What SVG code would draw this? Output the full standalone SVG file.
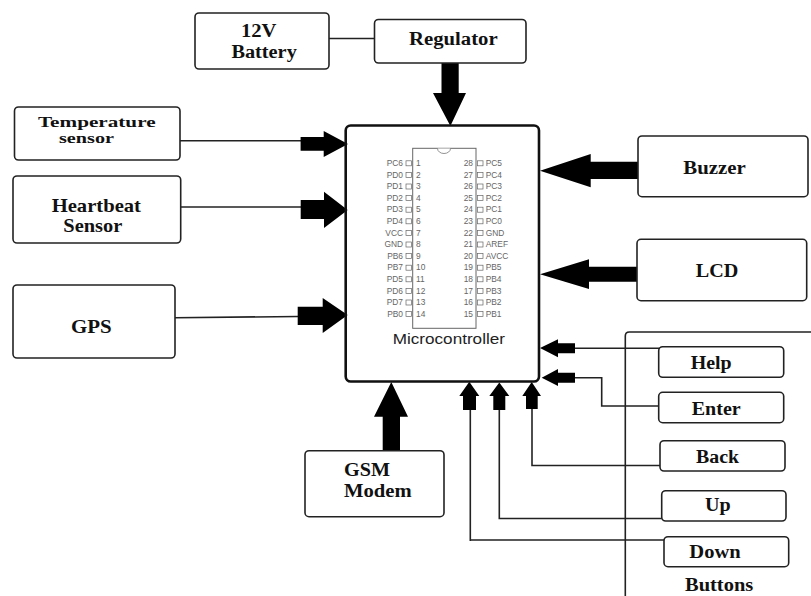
<svg xmlns="http://www.w3.org/2000/svg" width="811" height="596" viewBox="0 0 811 596">
<style>
.box{fill:#fff;stroke:#222;stroke-width:1.6}
.t{font-family:"Liberation Serif","Times New Roman",serif;font-weight:bold;font-size:18px;fill:#111}
.ln{fill:none;stroke:#222;stroke-width:1.6}
.ar{fill:#000;stroke:none}
.pl{font-family:"Liberation Sans",Arial,sans-serif;font-size:8.4px;fill:#666}
.e{text-anchor:end}
.pin{fill:#fff;stroke:#666;stroke-width:.7}
</style>
<rect width="811" height="596" fill="#fff"/>
<g id="buttons-frame"><path class="ln" d="M625.3 596V336q0-4 4-4H811"/><text class="t" x="685" y="590.7" textLength="68.3" lengthAdjust="spacingAndGlyphs">Buttons</text></g>
<g id="connectors">
<path class="ln" d="M329 38.5H375"/>
<path class="ln" d="M180 140.7H301"/>
<path class="ln" d="M180 207H301"/>
<path class="ln" d="M175 317.7L298 316.5"/>
<path class="ln" d="M575 348.3H659"/>
<path class="ln" d="M575 377.7H601.7V406H659"/>
<path class="ln" d="M532 409V465.5H661"/>
<path class="ln" d="M499.3 410V518.5H662"/>
<path class="ln" d="M470.3 410V541M470.3 540H665"/>
<polygon class="ar" points="441.5,63 458.7,63 458.7,93 466,93 450.4,126 433,93 441.5,93"/>
<polygon class="ar" points="300.6,137 323.7,137 323.7,131 348,144 323.7,157 323.7,150.7 300.6,150.7"/>
<polygon class="ar" points="300.7,200 324,200 324,191.7 347.7,210 324,228 324,219 300.7,219"/>
<polygon class="ar" points="297.7,306.7 322.7,306.7 322.7,298 347.7,315 322.7,333 322.7,325 297.7,325"/>
<polygon class="ar" points="638,161.7 590.7,161.7 590.7,154 540,170.7 590.7,187.3 590.7,179 638,179"/>
<polygon class="ar" points="637,266.7 589,266.7 589,259.3 540,274.3 589,289 589,281.7 637,281.7"/>
<polygon class="ar" points="575,343.3 558,343.3 558,339.3 540,348 558,357.3 558,353.3 575,353.3"/>
<polygon class="ar" points="575,372.7 558,372.7 558,369 541.7,377.7 558,386 558,382.7 575,382.7"/>
<polygon class="ar" points="382.7,451 400,451 400,416.7 408,416.7 391.3,382 374,416.7 382.7,416.7"/>
<polygon class="ar" points="463,410 476,410 476,396 479.3,396 469.3,381.7 459.3,396 463,396"/>
<polygon class="ar" points="493.3,410 505.3,410 505.3,396 509.3,396 499.3,382.5 489.3,396 493.3,396"/>
<polygon class="ar" points="526,409 537.7,409 537.7,396 541,396 531.7,382 522.3,396 526,396"/>
</g>
<g id="battery"><rect class="box" x="195" y="13" width="134" height="56" rx="4"/><text class="t" x="241" y="37.3" textLength="35.5" lengthAdjust="spacingAndGlyphs">12V</text><text class="t" x="231.4" y="58.3" textLength="65.4" lengthAdjust="spacingAndGlyphs">Battery</text></g>
<g id="regulator"><rect class="box" x="374.5" y="19.5" width="151.5" height="43.5" rx="4"/><text class="t" x="409" y="45" textLength="88.6" lengthAdjust="spacingAndGlyphs">Regulator</text></g>
<g id="temperature"><rect class="box" x="14.5" y="107" width="165.5" height="53" rx="4"/><text class="t" style="font-size:15px" x="37.9" y="126.7" textLength="117.7" lengthAdjust="spacingAndGlyphs">Temperature</text><text class="t" style="font-size:15px" x="59" y="142.7" textLength="55" lengthAdjust="spacingAndGlyphs">sensor</text></g>
<g id="heartbeat"><rect class="box" x="13" y="176" width="167.7" height="67" rx="4"/><text class="t" style="font-size:19.5px" x="51.7" y="211.7" textLength="89.3" lengthAdjust="spacingAndGlyphs">Heartbeat</text><text class="t" style="font-size:19.5px" x="63.3" y="232.3" textLength="59" lengthAdjust="spacingAndGlyphs">Sensor</text></g>
<g id="gps"><rect class="box" x="13" y="285" width="162" height="73" rx="4"/><text class="t" style="font-size:19.5px" x="71" y="332.7" textLength="40.7" lengthAdjust="spacingAndGlyphs">GPS</text></g>
<g id="gsm"><rect class="box" x="305" y="450.7" width="139" height="66" rx="4"/><text class="t" style="font-size:19.5px" x="344" y="475.7" textLength="46" lengthAdjust="spacingAndGlyphs">GSM</text><text class="t" style="font-size:19.5px" x="344" y="496.7" textLength="67.7" lengthAdjust="spacingAndGlyphs">Modem</text></g>
<g id="buzzer"><rect class="box" x="638" y="136" width="170" height="60.7" rx="4"/><text class="t" x="683.3" y="174" textLength="62.4" lengthAdjust="spacingAndGlyphs">Buzzer</text></g>
<g id="lcd"><rect class="box" x="637" y="239.3" width="169.7" height="61.4" rx="4"/><text class="t" x="695.7" y="276.7" textLength="42.6" lengthAdjust="spacingAndGlyphs">LCD</text></g>
<g id="help"><rect class="box" x="658.7" y="346.7" width="125" height="30.6" rx="4"/><text class="t" x="690.7" y="369" textLength="41" lengthAdjust="spacingAndGlyphs">Help</text></g>
<g id="enter"><rect class="box" x="658.7" y="392.3" width="125" height="30.4" rx="4"/><text class="t" x="691.7" y="415" textLength="49" lengthAdjust="spacingAndGlyphs">Enter</text></g>
<g id="back"><rect class="box" x="660" y="440.7" width="125" height="30.3" rx="4"/><text class="t" x="696" y="462.7" textLength="43" lengthAdjust="spacingAndGlyphs">Back</text></g>
<g id="up"><rect class="box" x="661.7" y="490.7" width="124.3" height="30.3" rx="4"/><text class="t" x="705" y="511" textLength="25.7" lengthAdjust="spacingAndGlyphs">Up</text></g>
<g id="down"><rect class="box" x="664" y="536.7" width="124.7" height="30" rx="4"/><text class="t" x="689.3" y="557.7" textLength="51.4" lengthAdjust="spacingAndGlyphs">Down</text></g>
<g id="microcontroller">
<rect x="345.7" y="125.5" width="193.3" height="256" rx="5" fill="none" stroke="#111" stroke-width="2.6"/>
<rect x="412.7" y="148.3" width="63.3" height="180" fill="#fff" stroke="#666" stroke-width="1"/>
<path d="M437.5 148.5a6.5 5 0 0 0 13 0" fill="#fff" stroke="#777" stroke-width=".8"/>
<g>
<rect class="pin" x="406" y="160.8" width="5.5" height="5"/><rect class="pin" x="406" y="172.4" width="5.5" height="5"/><rect class="pin" x="406" y="184" width="5.5" height="5"/><rect class="pin" x="406" y="195.6" width="5.5" height="5"/><rect class="pin" x="406" y="207.2" width="5.5" height="5"/><rect class="pin" x="406" y="218.8" width="5.5" height="5"/><rect class="pin" x="406" y="230.4" width="5.5" height="5"/><rect class="pin" x="406" y="242" width="5.5" height="5"/><rect class="pin" x="406" y="253.6" width="5.5" height="5"/><rect class="pin" x="406" y="265.2" width="5.5" height="5"/><rect class="pin" x="406" y="276.8" width="5.5" height="5"/><rect class="pin" x="406" y="288.4" width="5.5" height="5"/><rect class="pin" x="406" y="300" width="5.5" height="5"/><rect class="pin" x="406" y="311.6" width="5.5" height="5"/>
<rect class="pin" x="477.5" y="160.8" width="5.5" height="5"/><rect class="pin" x="477.5" y="172.4" width="5.5" height="5"/><rect class="pin" x="477.5" y="184" width="5.5" height="5"/><rect class="pin" x="477.5" y="195.6" width="5.5" height="5"/><rect class="pin" x="477.5" y="207.2" width="5.5" height="5"/><rect class="pin" x="477.5" y="218.8" width="5.5" height="5"/><rect class="pin" x="477.5" y="230.4" width="5.5" height="5"/><rect class="pin" x="477.5" y="242" width="5.5" height="5"/><rect class="pin" x="477.5" y="253.6" width="5.5" height="5"/><rect class="pin" x="477.5" y="265.2" width="5.5" height="5"/><rect class="pin" x="477.5" y="276.8" width="5.5" height="5"/><rect class="pin" x="477.5" y="288.4" width="5.5" height="5"/><rect class="pin" x="477.5" y="300" width="5.5" height="5"/><rect class="pin" x="477.5" y="311.6" width="5.5" height="5"/>
</g>
<g class="pl e">
<text x="403" y="166">PC6</text><text x="403" y="177.6">PD0</text><text x="403" y="189.2">PD1</text><text x="403" y="200.8">PD2</text><text x="403" y="212.4">PD3</text><text x="403" y="224">PD4</text><text x="403" y="235.6">VCC</text><text x="403" y="247.2">GND</text><text x="403" y="258.8">PB6</text><text x="403" y="270.4">PB7</text><text x="403" y="282">PD5</text><text x="403" y="293.6">PD6</text><text x="403" y="305.2">PD7</text><text x="403" y="316.8">PB0</text>
<text x="473" y="166">28</text><text x="473" y="177.6">27</text><text x="473" y="189.2">26</text><text x="473" y="200.8">25</text><text x="473" y="212.4">24</text><text x="473" y="224">23</text><text x="473" y="235.6">22</text><text x="473" y="247.2">21</text><text x="473" y="258.8">20</text><text x="473" y="270.4">19</text><text x="473" y="282">18</text><text x="473" y="293.6">17</text><text x="473" y="305.2">16</text><text x="473" y="316.8">15</text>
</g>
<g class="pl">
<text x="416" y="166">1</text><text x="416" y="177.6">2</text><text x="416" y="189.2">3</text><text x="416" y="200.8">4</text><text x="416" y="212.4">5</text><text x="416" y="224">6</text><text x="416" y="235.6">7</text><text x="416" y="247.2">8</text><text x="416" y="258.8">9</text><text x="416" y="270.4">10</text><text x="416" y="282">11</text><text x="416" y="293.6">12</text><text x="416" y="305.2">13</text><text x="416" y="316.8">14</text>
<text x="485.7" y="166">PC5</text><text x="485.7" y="177.6">PC4</text><text x="485.7" y="189.2">PC3</text><text x="485.7" y="200.8">PC2</text><text x="485.7" y="212.4">PC1</text><text x="485.7" y="224">PC0</text><text x="485.7" y="235.6">GND</text><text x="485.7" y="247.2">AREF</text><text x="485.7" y="258.8">AVCC</text><text x="485.7" y="270.4">PB5</text><text x="485.7" y="282">PB4</text><text x="485.7" y="293.6">PB3</text><text x="485.7" y="305.2">PB2</text><text x="485.7" y="316.8">PB1</text>
</g>
<text x="392.7" y="344" style="font-family:'Liberation Sans',Arial,sans-serif;font-size:15.5px;fill:#222" textLength="112.3" lengthAdjust="spacingAndGlyphs">Microcontroller</text>
</g>
</svg>
